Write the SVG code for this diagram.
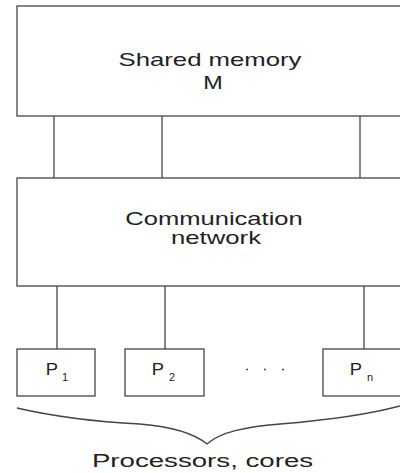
<svg xmlns="http://www.w3.org/2000/svg" width="400" height="473" viewBox="0 0 400 473">
  <style>
    .box { fill: #ffffff; stroke: #454545; stroke-width: 1.3; }
    .wire { fill: none; stroke: #454545; stroke-width: 1.3; }
    .lbl { font-family: "Liberation Sans", Arial, sans-serif; fill: #222222; text-anchor: middle; }
    .big { font-size: 18px; }
    .proc { font-size: 17px; }
    .sub { font-size: 11px; }
  </style>
  <rect width="400" height="473" fill="#ffffff"/>

  <!-- connectors -->
  <g id="connectors" class="wire">
    <line x1="54" y1="116" x2="54" y2="178"/>
    <line x1="162" y1="116" x2="162" y2="178"/>
    <line x1="360" y1="116" x2="360" y2="178"/>
    <line x1="57" y1="286" x2="57" y2="349"/>
    <line x1="165" y1="286" x2="165" y2="349"/>
    <line x1="364" y1="286" x2="364" y2="349"/>
  </g>

  <g id="shared-memory">
    <rect class="box" x="17" y="6" width="400" height="110"/>
    <text class="lbl big" transform="translate(210,65.5) scale(1.43,1)">Shared memory</text>
    <text class="lbl big" transform="translate(213,88.5) scale(1.3,1)">M</text>
  </g>

  <g id="network">
    <rect class="box" x="17" y="178" width="400" height="108"/>
    <text class="lbl big" transform="translate(214,224.5) scale(1.42,1)">Communication</text>
    <text class="lbl big" transform="translate(216,243.5) scale(1.43,1)">network</text>
  </g>

  <g id="p1">
    <rect class="box" x="17" y="349" width="78" height="47"/>
    <text class="lbl proc" transform="translate(52,374.5) scale(1.08,1)">P</text>
    <text class="lbl sub" x="65" y="381">1</text>
  </g>

  <g id="p2">
    <rect class="box" x="125" y="349" width="79" height="47"/>
    <text class="lbl proc" transform="translate(158,374.5) scale(1.08,1)">P</text>
    <text class="lbl sub" x="172" y="381">2</text>
  </g>

  <g id="ellipsis" fill="#333333">
    <circle cx="247" cy="369.5" r="0.9"/>
    <circle cx="265" cy="369.5" r="0.9"/>
    <circle cx="283" cy="369.5" r="0.9"/>
  </g>

  <g id="pn">
    <rect class="box" x="323" y="349" width="90" height="47"/>
    <text class="lbl proc" transform="translate(356,374.5) scale(1.08,1)">P</text>
    <text class="lbl sub" x="370" y="381">n</text>
  </g>

  <g id="processors-brace">
    <path class="wire" d="M17,408 C60,418 100,422 140,424 C175,427 195,434 207,444 C220,432 245,427 280,424 C330,420 370,414 400,406"/>
    <text class="lbl" font-size="17.5" transform="translate(202.5,466.5) scale(1.58,1)">Processors, cores</text>
  </g>
</svg>
